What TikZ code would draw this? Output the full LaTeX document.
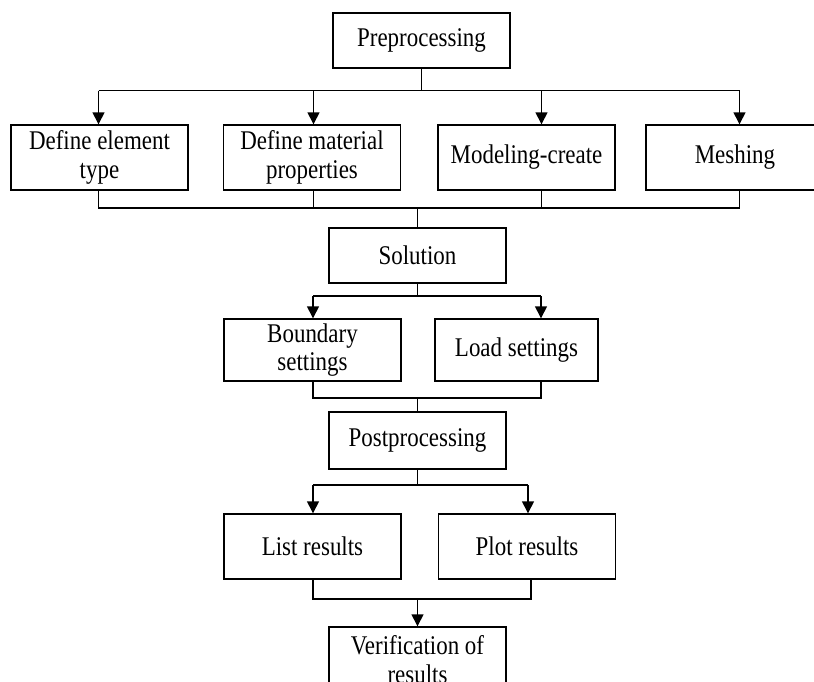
\documentclass[tikz,border=0pt]{standalone}
\usepackage{fontspec}
\setmainfont{Liberation Serif}[FakeStretch=0.85]
\usetikzlibrary{arrows.meta}
\tikzset{
  box/.style={draw, line width=1.4pt, minimum width=177pt, minimum height=65pt,
    align=center, inner sep=0pt, font=\fontsize{27}{28.5}\selectfont},
  line/.style={line width=1.4pt},
  arr/.style={line width=1.4pt, -{Triangle[length=12pt,width=12pt]}}
}
\begin{document}
\begin{tikzpicture}[x=1pt,y=-1pt]
\useasboundingbox (0,0) rectangle (814,681);
\clip (0,0) rectangle (814,681);
\fill[white] (0,0) rectangle (814,681);
% nodes
\node[box, minimum height=55pt] (pre) at (421.5,40.5) {Preprocessing};
\node[box] (det) at (99.5,157.5) {Define element\\type};
\node[box] (dmp) at (312,157.5) {Define material\\properties};
\node[box] (mod) at (526.5,157.5) {Modeling-create};
\node[box, minimum width=178pt] (mesh) at (735,157.5) {Meshing};
\node[box, minimum height=55pt] (sol) at (417.5,255.5) {Solution};
\node[box, minimum height=62pt] (bnd) at (312.5,350) {Boundary\\settings};
\node[box, minimum width=163pt, minimum height=62pt] (load) at (516.5,350) {Load settings};
\node[box, minimum height=57pt] (post) at (417.5,440.5) {Postprocessing};
\node[box] (list) at (312.5,546.5) {List results};
\node[box] (plot) at (527,546.5) {Plot results};
\node[box] (ver) at (417.5,659.5) {Verification of\\results};
% bus coordinates
\coordinate (b1) at (421.5,90.5);
\coordinate (b2) at (417.5,208);
\coordinate (b3) at (417.5,296);
\coordinate (b4) at (417.5,398);
\coordinate (b5) at (417.5,485);
\coordinate (b6) at (417.5,599);
% anchor columns
\coordinate (c1) at (98.5,0);
\coordinate (c2) at (313.5,0);
\coordinate (c3) at (541.5,0);
\coordinate (c4) at (739.5,0);
\coordinate (c5) at (313,0);
\coordinate (c6) at (541,0);
\coordinate (c7) at (528,0);
\coordinate (c8) at (531,0);
% Preprocessing -> row 1
\draw[line] (pre.south) -- (b1);
\draw[line] (c1 |- b1) -- (c4 |- b1);
\draw[arr] (c1 |- b1) -- (c1 |- det.north);
\draw[arr] (c2 |- b1) -- (c2 |- dmp.north);
\draw[arr] (c3 |- b1) -- (c3 |- mod.north);
\draw[arr] (c4 |- b1) -- (c4 |- mesh.north);
% row 1 -> Solution
\draw[line] (c1 |- det.south) -- (c1 |- b2) -- (c4 |- b2) -- (c4 |- mesh.south);
\draw[line] (c2 |- dmp.south) -- (c2 |- b2);
\draw[line] (c3 |- mod.south) -- (c3 |- b2);
\draw[line] (b2) -- (sol.north);
% Solution -> settings
\draw[line] (sol.south) -- (b3);
\draw[line] (c5 |- b3) -- (c6 |- b3);
\draw[arr] (c5 |- b3) -- (c5 |- bnd.north);
\draw[arr] (c6 |- b3) -- (c6 |- load.north);
% settings -> Postprocessing
\draw[line] (c5 |- bnd.south) -- (c5 |- b4) -- (c6 |- b4) -- (c6 |- load.south);
\draw[line] (b4) -- (post.north);
% Postprocessing -> results
\draw[line] (post.south) -- (b5);
\draw[line] (c5 |- b5) -- (c7 |- b5);
\draw[arr] (c5 |- b5) -- (c5 |- list.north);
\draw[arr] (c7 |- b5) -- (c7 |- plot.north);
% results -> Verification
\draw[line] (c5 |- list.south) -- (c5 |- b6) -- (c8 |- b6) -- (c8 |- plot.south);
\draw[arr] (b6) -- (ver.north);
\end{tikzpicture}
\end{document}
